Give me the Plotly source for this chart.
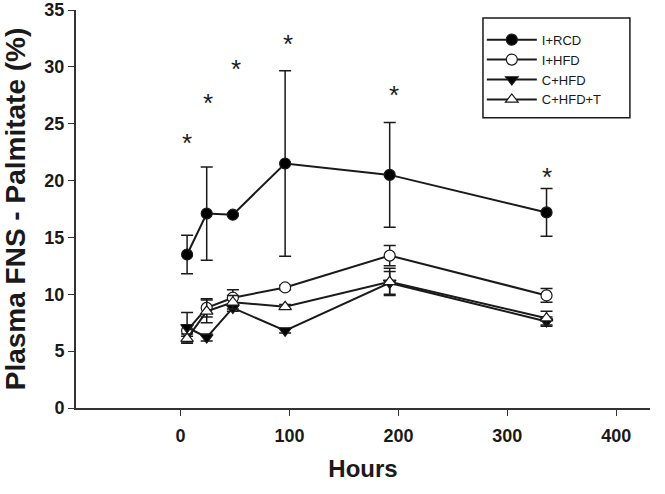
import plotly.graph_objects as go

hours = [6, 24, 48, 96, 192, 336]

i_rcd = [13.5, 17.1, 17.0, 21.5, 20.5, 17.2]
i_rcd_err = [1.7, 4.1, 0.1, 8.15, 4.6, 2.1]

i_hfd = [6.8, 8.8, 9.7, 10.6, 13.4, 9.9]
i_hfd_err = [0.5, 0.8, 0.7, 0.2, 0.9, 0.6]

c_hfd = [7.1, 6.2, 8.8, 6.8, 11.0, 7.6]
c_hfd_err = [1.3, 0.3, 0.3, 0.2, 1.0, 0.4]

c_hfd_t = [6.1, 8.5, 9.3, 8.9, 11.1, 7.9]
c_hfd_t_err = [0.4, 1.0, 0.6, 0.2, 1.2, 0.6]

star_x = [6, 25, 51, 99, 196, 336]
star_y = [23.3, 26.8, 29.8, 32.0, 27.5, 20.3]

series = [
    ("I+RCD", i_rcd, i_rcd_err, "circle", "black"),
    ("I+HFD", i_hfd, i_hfd_err, "circle", "white"),
    ("C+HFD", c_hfd, c_hfd_err, "triangle-down", "black"),
    ("C+HFD+T", c_hfd_t, c_hfd_t_err, "triangle-up", "white"),
]

ink = "#1a1a1a"

fig = go.Figure()
for name, y, err, sym, fill in series:
    fig.add_trace(go.Scatter(
        x=hours, y=y, name=name, mode="lines+markers",
        line=dict(color=ink, width=2),
        marker=dict(symbol=sym, size=11, color=fill,
                    line=dict(color=ink, width=1.2)),
        error_y=dict(type="data", array=err, visible=True,
                     color=ink, thickness=1.5, width=6),
    ))

for sx, sy in zip(star_x, star_y):
    fig.add_annotation(x=sx, y=sy, text="*", showarrow=False,
                       font=dict(family="Liberation Sans", size=26, color=ink))

# legend frame
fig.add_shape(type="rect", xref="paper", yref="paper",
              x0=0.709, x1=0.965, y0=0.729, y1=0.98,
              line=dict(color=ink, width=1.5), fillcolor="rgba(0,0,0,0)")

fig.update_layout(
    width=665, height=494,
    margin=dict(l=76, r=15, t=10, b=86),
    plot_bgcolor="white", paper_bgcolor="white",
    font=dict(family="Liberation Sans", color=ink),
    showlegend=True,
    legend=dict(x=0.707, y=0.963, xanchor="left", yanchor="top",
                borderwidth=0, bgcolor="rgba(0,0,0,0)",
                font=dict(size=13), tracegroupgap=0, itemwidth=50),
)
fig.update_xaxes(
    range=[-96, 431], tickvals=[0, 100, 200, 300, 400], automargin=False,
    showline=True, linecolor="#333", linewidth=2, showgrid=False, zeroline=False,
    ticks="outside", ticklen=6, tickcolor="#333", ticklabelstandoff=4,
    tickfont=dict(size=18, family="Liberation Sans", weight="bold"),
    title=dict(text="<b>Hours</b>", font=dict(size=24), standoff=16),
)
fig.update_yaxes(
    range=[0, 35], dtick=5, automargin=False,
    showline=True, linecolor="#333", linewidth=2, showgrid=False, zeroline=False,
    ticks="outside", ticklen=6, tickcolor="#333",
    tickfont=dict(size=18, family="Liberation Sans", weight="bold"),
    title=dict(text="<b>Plasma FNS - Palmitate (%)</b>", font=dict(size=28), standoff=14),
)

fig.write_html("out.html", config={"displayModeBar": False},
               post_script="document.body.style.margin='0px';")
